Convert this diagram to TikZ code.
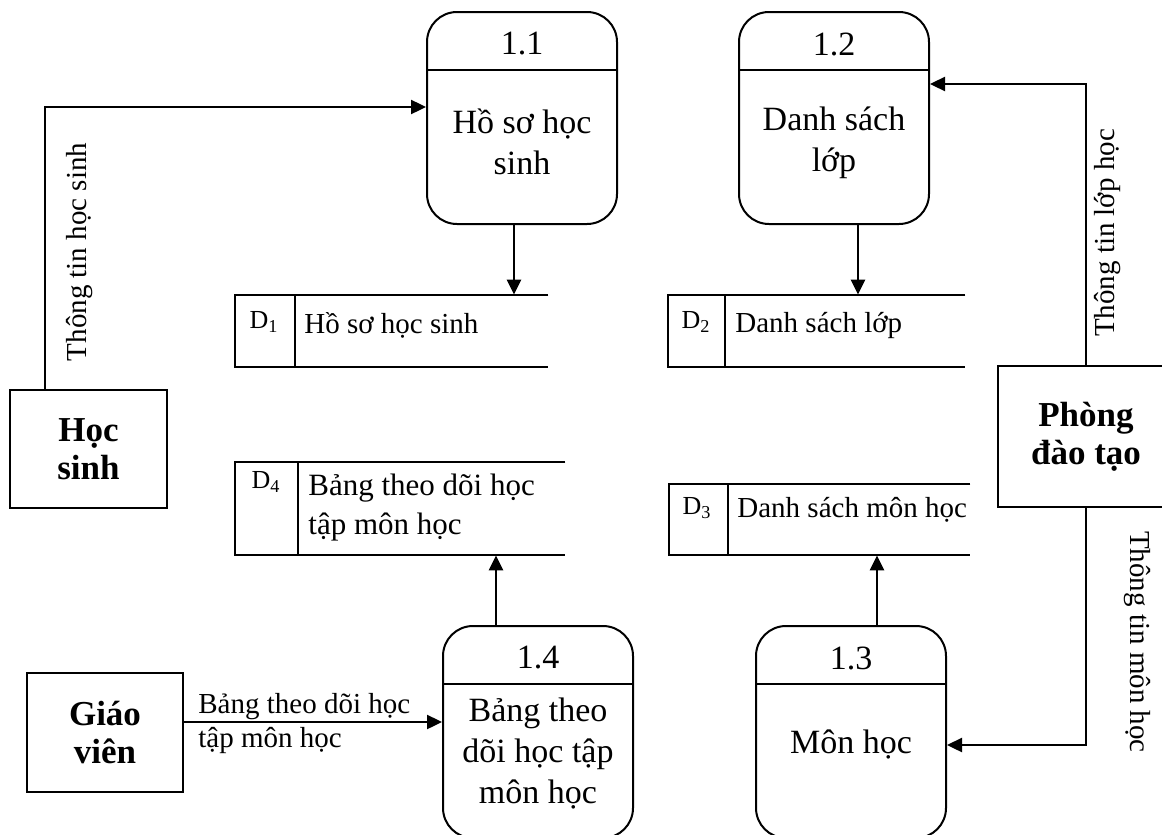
\documentclass[tikz,border=0pt]{standalone}
\usepackage{fontspec}
\setmainfont{Liberation Serif}
\usetikzlibrary{arrows.meta,positioning}

\begin{document}
\begin{tikzpicture}[x=0.5pt, y=-0.5pt,
    process/.style={draw, line width=1pt, rounded corners=15pt, minimum width=95pt, minimum height=106pt, inner sep=0pt},
    entity/.style={draw, line width=1pt, align=center, inner sep=0pt, font=\bfseries\fontsize{17.5}{19}\selectfont},
    store/.style={inner sep=0pt},
    storeline/.style={line width=1pt},
    ptext/.style={align=center, inner sep=0pt, font=\fontsize{17}{20.5}\selectfont},
    stext/.style={anchor=west, align=left, inner sep=0pt, font=\fontsize{14.5}{19.5}\selectfont},
    sid/.style={inner sep=0pt, font=\fontsize{13}{15}\selectfont},
    flowlabel/.style={inner sep=0pt, font=\fontsize{14.5}{15}\selectfont},
    arrow/.style={-{Triangle[length=7.5pt, width=7pt]}, line width=1.2pt}
]
    \useasboundingbox (0,0) rectangle (1162,835);
    \clip (0,0) rectangle (1162,835);

    % Processes
    \node[process] (p11) at (522,118) {};
    \node[process] (p12) at (834,118) {};
    \node[process] (p14) at (538,732) {};
    \node[process] (p13) at (851,732) {};
    \draw[line width=1pt] (p11.west |- 0,70) -- (p11.east |- 0,70);
    \draw[line width=1pt] (p12.west |- 0,70) -- (p12.east |- 0,70);
    \draw[line width=1pt] (p14.west |- 0,684) -- (p14.east |- 0,684);
    \draw[line width=1pt] (p13.west |- 0,684) -- (p13.east |- 0,684);
    \node[ptext] (p11num) at (522,44) {1.1};
    \node[ptext] (p12num) at (834,44) {1.2};
    \node[ptext] (p14num) at (538,658) {1.4};
    \node[ptext] (p13num) at (851,658) {1.3};
    \node[ptext] (p11txt) at (522,142) {Hồ sơ học\\sinh};
    \node[ptext] (p12txt) at (834,143) {Danh sách\\lớp};
    \node[ptext] (p14txt) at (538,754) {Bảng theo\\dõi học tập\\môn học};
    \node[ptext] (p13txt) at (851,744) {Môn học};

    % External entities
    \node[entity, minimum width=78.5pt, minimum height=59pt] (hs) at (88.5,449) {Học\\sinh};
    \node[entity, minimum width=78pt, minimum height=59.5pt] (gv) at (105,732.5) {Giáo\\viên};
    \node[entity, minimum width=88pt, minimum height=70.5pt] (pdt) at (1086,436.5) {Phòng\\đào tạo};

    % Data stores
    \node[store, minimum width=156.5pt, minimum height=36pt] (d1) at (391.5,331) {};
    \draw[storeline] (d1.north east) -- (d1.north west) -- (d1.south west) -- (d1.south east);
    \draw[storeline] ([xshift=30pt]d1.north west) -- ([xshift=30pt]d1.south west);
    \node[sid] (d1id) at (264,322) {D\textsubscript{1}};
    \node[stext] (d1txt) at (304,325) {Hồ sơ học sinh};

    \node[store, minimum width=148.5pt, minimum height=36pt] (d2) at (816.5,331) {};
    \draw[storeline] (d2.north east) -- (d2.north west) -- (d2.south west) -- (d2.south east);
    \draw[storeline] ([xshift=28.5pt]d2.north west) -- ([xshift=28.5pt]d2.south west);
    \node[sid] (d2id) at (696,322) {D\textsubscript{2}};
    \node[stext] (d2txt) at (735,325) {Danh sách lớp};

    \node[store, minimum width=165pt, minimum height=46.5pt] (d4) at (400,508.5) {};
    \draw[storeline] (d4.north east) -- (d4.north west) -- (d4.south west) -- (d4.south east);
    \draw[storeline] ([xshift=31.5pt]d4.north west) -- ([xshift=31.5pt]d4.south west);
    \node[sid] (d4id) at (266,482) {D\textsubscript{4}};
    \node[stext, font=\fontsize{15.5}{19.5}\selectfont] (d4txt) at (308,508) {Bảng theo dõi học\\tập môn học};

    \node[store, minimum width=150.5pt, minimum height=35.5pt] (d3) at (819.5,519.5) {};
    \draw[storeline] (d3.north east) -- (d3.north west) -- (d3.south west) -- (d3.south east);
    \draw[storeline] ([xshift=29.5pt]d3.north west) -- ([xshift=29.5pt]d3.south west);
    \node[sid] (d3id) at (697,508) {D\textsubscript{3}};
    \node[stext] (d3txt) at (737,510) {Danh sách môn học};

    % Flows
    \draw[arrow] (hs.north -| 45,0) |- (p11.west |- 0,107);
    \draw[arrow] (p11.south -| 514,0) -- (d1.north -| 514,0);
    \draw[arrow] (p12.south -| 858,0) -- (d2.north -| 858,0);
    \draw[arrow] (p14.north -| 496,0) -- (d4.south -| 496,0);
    \draw[arrow] (p13.north -| 877,0) -- (d3.south -| 877,0);
    \draw[arrow] (pdt.north) |- (p12.east |- 0,84);
    \draw[arrow] (pdt.south) |- (p13.east |- 0,745);
    \draw[arrow] (gv.east |- 0,722) -- (p14.west |- 0,722);

    % Flow labels
    \node[flowlabel, rotate=90] (lbhs) at (80,252) {Thông tin học sinh};
    \node[flowlabel, rotate=90] (lblh) at (1108,233) {Thông tin lớp học};
    \node[flowlabel, rotate=-90] (lbmh) at (1137,642) {Thông tin môn học};
    \node[flowlabel, align=left, anchor=west, font=\fontsize{14.5}{17}\selectfont] (lbgv) at (198,724) {Bảng theo dõi học\\tập môn học};
\end{tikzpicture}
\end{document}
